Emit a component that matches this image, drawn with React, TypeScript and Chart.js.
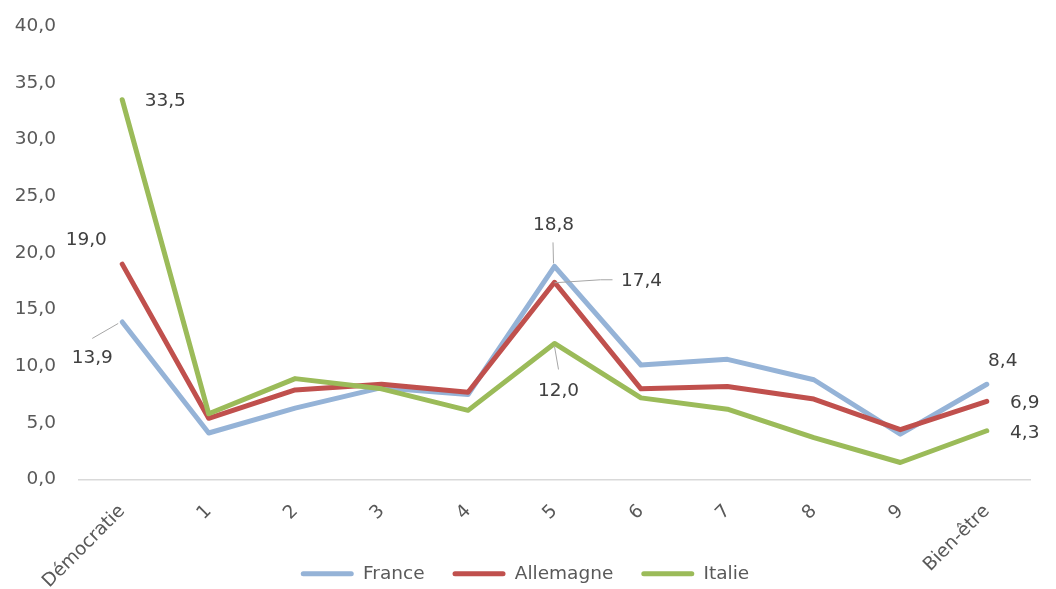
import { useEffect, useRef } from 'react';
import { Chart, registerables } from 'chart.js';

Chart.register(...registerables);

const categories = ['Démocratie', '1', '2', '3', '4', '5', '6', '7', '8', '9', 'Bien-être'];
const seriesNames = ['France', 'Allemagne', 'Italie'];
const franceValues = [13.9, 4.1, 6.3, 8.1, 7.5, 18.8, 10.1, 10.6, 8.8, 4.0, 8.4];
const allemagneValues = [19.0, 5.4, 7.9, 8.4, 7.7, 17.4, 8.0, 8.2, 7.1, 4.4, 6.9];
const italieValues = [33.5, 5.8, 8.9, 8.0, 6.1, 12.0, 7.2, 6.2, 3.7, 1.5, 4.3];
const yMin = 0;
const yMax = 40;
const yStep = 5;

const COLORS = ['#95B3D7', '#C0504D', '#9BBB59'];
const FONT_FAMILY = "'DejaVu Sans', sans-serif";
const FONT_SIZE = 18.5;

// which points carry a value label, and where the label sits relative to the point (style only)
const labelPlacement = [
  { ds: 2, i: 0, dx: 43, dy: 1, leader: null },
  { ds: 1, i: 0, dx: -36, dy: -24, leader: null },
  { ds: 0, i: 0, dx: -30, dy: 36, leader: [[-4, 1.5], [-30, 16.5]] },
  { ds: 0, i: 5, dx: -1, dy: -41, leader: [[-1, -3], [-1.5, -24]] },
  { ds: 1, i: 5, dx: 87, dy: -1, leader: [[0, 0.5], [46, -2.5], [58, -2.5]] },
  { ds: 2, i: 5, dx: 4, dy: 48, leader: [[0, 3], [4, 26]] },
  { ds: 0, i: 10, dx: 16, dy: -23, leader: null },
  { ds: 1, i: 10, dx: 38, dy: 2, leader: null },
  { ds: 2, i: 10, dx: 38, dy: 2, leader: null },
];

const fmt = (v: number) => v.toFixed(1).replace('.', ',');

const dataLabelPlugin = {
  id: 'valueLabels',
  afterLayout(chart: any) {
    // nudge the centred legend slightly right, as in the original
    const lg = chart.legend;
    if (lg) {
      lg.left += 10;
      lg.right += 10;
    }
  },
  afterDatasetsDraw(chart: any) {
    const ctx = chart.ctx;
    ctx.save();
    for (const p of labelPlacement) {
      const el = chart.getDatasetMeta(p.ds).data[p.i];
      const v = chart.data.datasets[p.ds].data[p.i] as number;
      const x = el.x;
      const y = el.y;
      if (p.leader) {
        ctx.strokeStyle = '#A6A6A6';
        ctx.lineWidth = 1;
        ctx.beginPath();
        p.leader.forEach((pt: number[], k: number) => {
          if (k === 0) ctx.moveTo(x + pt[0], y + pt[1]);
          else ctx.lineTo(x + pt[0], y + pt[1]);
        });
        ctx.stroke();
      }
      ctx.fillStyle = '#404040';
      ctx.font = `${FONT_SIZE}px ${FONT_FAMILY}`;
      ctx.textAlign = 'center';
      ctx.textBaseline = 'middle';
      ctx.fillText(fmt(v), x + p.dx, y + p.dy);
    }
    ctx.restore();
  },
};

export default function App() {
  const canvasRef = useRef<HTMLCanvasElement | null>(null);

  useEffect(() => {
    if (!canvasRef.current) return;
    const seriesValues = [franceValues, allemagneValues, italieValues];
    const chart = new Chart(canvasRef.current, {
      type: 'line',
      data: {
        labels: categories,
        datasets: seriesNames.map((name, k) => ({
          label: name,
          data: seriesValues[k],
          borderColor: COLORS[k],
          backgroundColor: COLORS[k],
          borderWidth: 5,
          pointRadius: 0,
          pointHoverRadius: 0,
          tension: 0,
          borderJoinStyle: 'round' as const,
          borderCapStyle: 'round' as const,
          order: 3 - k,
        })),
      },
      options: {
        responsive: false,
        animation: false,
        layout: { padding: { top: 14, right: 26, left: 0, bottom: -4 } },
        plugins: {
          tooltip: { enabled: false },
          legend: {
            position: 'bottom',
            labels: {
              boxWidth: 53,
              boxHeight: 5,
              padding: 28,
              color: '#595959',
              font: { family: FONT_FAMILY, size: FONT_SIZE },
              sort: (a: any, b: any) => a.datasetIndex - b.datasetIndex,
              generateLabels: (c: any) =>
                (Chart.defaults.plugins.legend.labels as any)
                  .generateLabels(c)
                  .map((l: any) => ({ ...l, lineWidth: 0, borderRadius: 2.5 })),
            },
          },
        },
        scales: {
          x: {
            offset: true,
            grid: { display: false },
            border: { display: true, color: '#D9D9D9', width: 1.5 },
            ticks: {
              autoSkip: false,
              maxRotation: 45,
              minRotation: 45,
              padding: 13,
              color: '#595959',
              font: { family: FONT_FAMILY, size: FONT_SIZE },
            },
            afterFit: (s: any) => {
              s.height = 57;
              // let the rotated labels run below the axis box (into the legend band)
              s._computeLabelArea = () => undefined;
            },
          },
          y: {
            min: yMin,
            max: yMax,
            grid: { display: false },
            border: { display: false },
            ticks: {
              stepSize: yStep,
              padding: 15,
              color: '#595959',
              font: { family: FONT_FAMILY, size: FONT_SIZE },
              callback: (v: any) => fmt(Number(v)),
            },
            afterFit: (s: any) => {
              s.width = 79;
            },
          },
        },
      },
      plugins: [dataLabelPlugin],
    });
    return () => chart.destroy();
  }, []);

  return (
    <div style={{ position: 'absolute', left: 0, top: 0, width: 1056, height: 589, background: '#fff' }}>
      <canvas ref={canvasRef} width={1056} height={589} />
    </div>
  );
}
